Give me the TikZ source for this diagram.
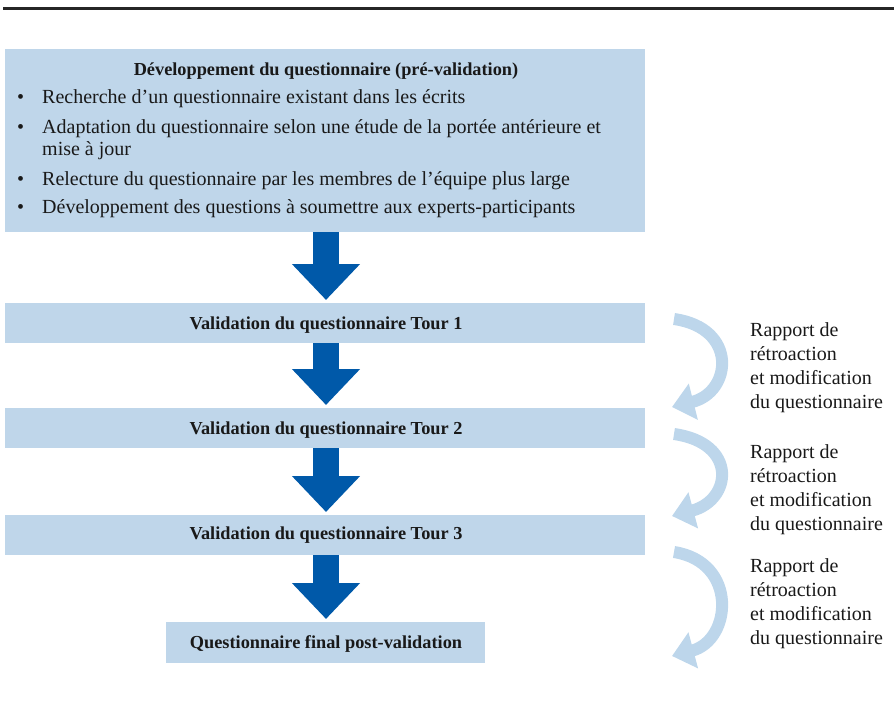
\documentclass[tikz,border=0pt]{standalone}
\usepackage{fontspec}
\setmainfont{Liberation Serif}
\usetikzlibrary{arrows.meta}
\definecolor{boxblue}{HTML}{BFD6EA}
\definecolor{darkblue}{HTML}{0059A9}
\definecolor{curveblue}{HTML}{BDD6EB}
\tikzset{
  x=1pt,y=-1pt,
  panel/.style={fill=boxblue,draw=none,inner sep=0pt},
  bigtext/.style={font=\fontsize{20}{24}\selectfont,inner sep=0pt,text=black!90},
  boldtext/.style={bigtext,font=\fontsize{18.3}{22}\selectfont\bfseries},
  downarrow/.style={draw=darkblue,line width=26pt,-{Triangle[width=66pt,length=36pt]},shorten >=3pt},
  loopback/.style={draw=curveblue,line width=12pt,-{Triangle[width=36pt,length=22pt]}},
  sidenote/.style={bigtext,anchor=north west,align=left,font=\fontsize{20}{24}\selectfont}
}
\begin{document}
\begin{tikzpicture}
\useasboundingbox (0,0) rectangle (894,705);
% top rule
\draw[line width=3pt,black!85] (3,8) -- (894,8);
% boxes
\node[panel,minimum width=640pt,minimum height=183pt,anchor=north west] (dev) at (5,49) {};
\node[panel,minimum width=640pt,minimum height=40pt,anchor=north west] (t1) at (5,303) {};
\node[panel,minimum width=640pt,minimum height=40pt,anchor=north west] (t2) at (5,408) {};
\node[panel,minimum width=640pt,minimum height=40pt,anchor=north west] (t3) at (5,515) {};
\node[panel,minimum width=319pt,minimum height=41pt,anchor=north west] (fin) at (166,622) {};
% texts
\node[boldtext,anchor=base] (devtitle) at (326,75) {Développement du questionnaire (pré-validation)};
\node[bigtext,anchor=base west] (b1) at (17,103) {•};
\node[bigtext,anchor=base west] (i1) at (42,103) {Recherche d’un questionnaire existant dans les écrits};
\node[bigtext,anchor=base west] (b2) at (17,133) {•};
\node[bigtext,anchor=base west] (i2) at (42,133) {Adaptation du questionnaire selon une étude de la portée antérieure et};
\node[bigtext,anchor=base west] (i2b) at (42,155) {mise à jour};
\node[bigtext,anchor=base west] (b3) at (17,185) {•};
\node[bigtext,anchor=base west] (i3) at (42,185) {Relecture du questionnaire par les membres de l’équipe plus large};
\node[bigtext,anchor=base west] (b4) at (17,213) {•};
\node[bigtext,anchor=base west] (i4) at (42,213) {Développement des questions à soumettre aux experts-participants};
\node[boldtext,anchor=base] (t1l) at (326,329) {Validation du questionnaire Tour 1};
\node[boldtext,anchor=base] (t2l) at (326,434) {Validation du questionnaire Tour 2};
\node[boldtext,anchor=base] (t3l) at (326,539) {Validation du questionnaire Tour 3};
\node[boldtext,anchor=base] (finl) at (326,648) {Questionnaire final post-validation};
% down arrows
\draw[downarrow] (dev.south -| 326,0) -- (t1.north -| 326,0);
\draw[downarrow] (t1.south -| 326,0) -- (t2.north -| 326,0);
\draw[downarrow] (t2.south -| 326,0) -- (t3.north -| 326,0);
\draw[downarrow] (t3.south -| 326,0) -- (fin.north -| 326,0);
% curved feedback arrows
\coordinate (c1s) at (674,319);
\coordinate (c1e) at (672,407);
\coordinate (c2s) at (674,434);
\coordinate (c2e) at (672,516);
\coordinate (c3s) at (674,552);
\coordinate (c3e) at (672,656);
\draw[loopback] (c1s) .. controls (738,328) and (732,392) .. (c1e);
\draw[loopback] (c2s) .. controls (738,443) and (732,500) .. (c2e);
\draw[loopback] (c3s) .. controls (738,562) and (732,640) .. (c3e);
% side notes
\node[sidenote] (n1) at (750,322) {Rapport de\\rétroaction\\et modification\\du questionnaire};
\node[sidenote] (n2) at (750,444) {Rapport de\\rétroaction\\et modification\\du questionnaire};
\node[sidenote] (n3) at (750,558) {Rapport de\\rétroaction\\et modification\\du questionnaire};
\end{tikzpicture}
\end{document}
